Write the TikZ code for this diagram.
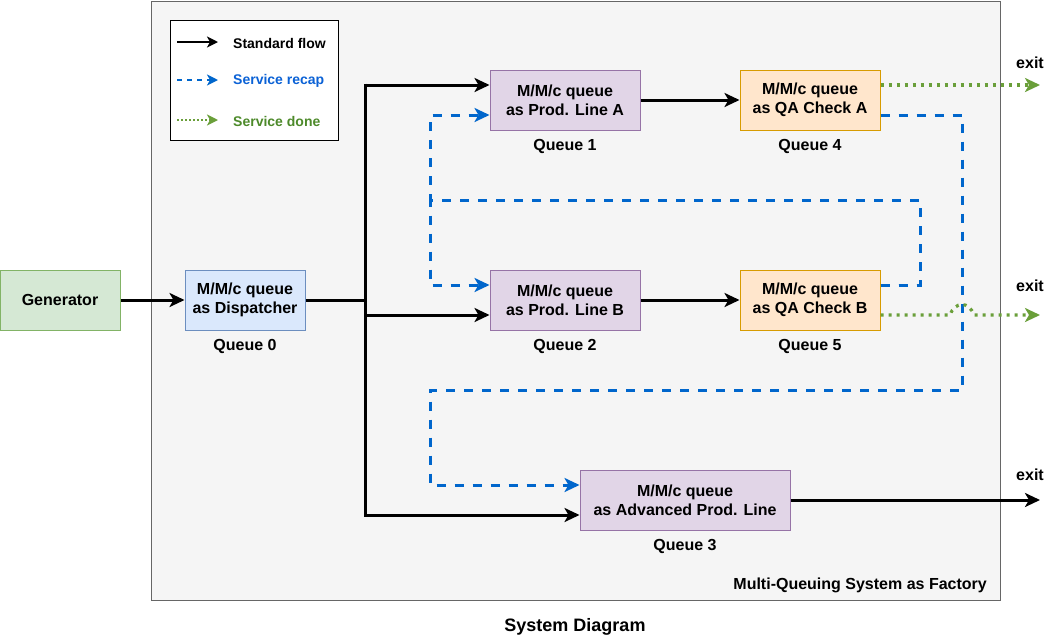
\documentclass[tikz,border=0pt]{standalone}
\usepackage{fontspec}
\setmainfont{Liberation Sans}
\usetikzlibrary{arrows.meta,calc}
\definecolor{sysfill}{HTML}{F5F5F5}
\definecolor{sysline}{HTML}{666666}
\definecolor{genfill}{HTML}{D5E8D4}
\definecolor{genline}{HTML}{82B366}
\definecolor{dispfill}{HTML}{DAE8FC}
\definecolor{displine}{HTML}{6C8EBF}
\definecolor{prodfill}{HTML}{E1D5E7}
\definecolor{prodline}{HTML}{9673A6}
\definecolor{qafill}{HTML}{FFE6CC}
\definecolor{qaline}{HTML}{D79B00}
\definecolor{recap}{HTML}{0066CC}
\definecolor{recaptext}{HTML}{0B62D6}
\definecolor{done}{HTML}{6A9F3A}
\definecolor{donetext}{HTML}{4D8A2A}
\tikzset{
  bigfont/.style={font=\bfseries\fontsize{16}{19}\selectfont},
  box/.style={draw, line width=1pt, minimum height=60, align=center, inner sep=0pt, bigfont},
  lbl/.style={inner sep=0pt, bigfont},
  legtext/.style={inner sep=0pt, anchor=west, font=\bfseries\fontsize{14}{16}\selectfont},
  flowline/.style={line width=3pt, black},
  flow/.style={flowline, -{Stealth[length=15pt,width=14pt,inset=4pt]}},
  recapflow/.style={line width=3pt, recap, dash pattern=on 9pt off 9pt, -{Stealth[length=15pt,width=14pt,inset=4pt]}},
  doneflow/.style={line width=3.2pt, done, dash pattern=on 3pt off 5pt, -{Stealth[length=15pt,width=14pt,inset=4pt]}},
}
\begin{document}
\begin{tikzpicture}[x=1pt,y=-1pt]
\useasboundingbox (0,0) rectangle (1061,641);
% container
\node[draw=sysline, fill=sysfill, line width=1pt, minimum width=849, minimum height=599, inner sep=0pt] (sys) at (575.5,300.5) {};
\node[lbl, anchor=east] (systitle) at (987,585) {Multi-Queuing System as Factory};
\node[inner sep=0pt, font=\bfseries\fontsize{18}{21}\selectfont] (diag) at (575,627) {System Diagram};

% legend
\node[draw=black, fill=white, line width=1pt, minimum width=168, minimum height=120, inner sep=0pt] (legend) at (254,80) {};
\coordinate (la1) at (177,42); \coordinate (lb1) at (218,42);
\coordinate (la2) at (177,80); \coordinate (lb2) at (218,80);
\coordinate (la3) at (177,120); \coordinate (lb3) at (218,120);
\draw[line width=2pt, black, -{Stealth[length=11pt,width=11pt,inset=3pt]}] (la1) -- (lb1);
\draw[line width=2pt, recap, dash pattern=on 5pt off 5pt, -{Stealth[length=11pt,width=11pt,inset=3pt]}] (la2) -- (lb2);
\draw[line width=2pt, done, dash pattern=on 2pt off 2pt, -{Stealth[length=11pt,width=11pt,inset=3pt]}] (la3) -- (lb3);
\node[legtext] (lt1) at (233,43) {Standard flow};
\node[legtext, text=recaptext] (lt2) at (233,81) {Service recap};
\node[legtext, text=donetext] (lt3) at (233,121) {Service done};

% boxes
\node[box, draw=genline, fill=genfill, minimum width=120] (gen) at (60,300) {Generator};
\node[box, draw=displine, fill=dispfill, minimum width=120] (q0) at (245,300) {M/M/c queue\\as Dispatcher};
\node[box, draw=prodline, fill=prodfill, minimum width=150] (q1) at (565,100) {M/M/c queue\\as Prod. Line A};
\node[box, draw=prodline, fill=prodfill, minimum width=150] (q2) at (565,300) {M/M/c queue\\as Prod. Line B};
\node[box, draw=qaline, fill=qafill, minimum width=140] (q4) at (810,100) {M/M/c queue\\as QA Check A};
\node[box, draw=qaline, fill=qafill, minimum width=140] (q5) at (810,300) {M/M/c queue\\as QA Check B};
\node[box, draw=prodline, fill=prodfill, minimum width=210] (q3) at (685,500) {M/M/c queue\\as Advanced Prod. Line};

% box labels
\node[lbl] (lq0) at (245,346) {Queue 0};
\node[lbl] (lq1) at (565,146) {Queue 1};
\node[lbl] (lq2) at (565,346) {Queue 2};
\node[lbl] (lq4) at (810,146) {Queue 4};
\node[lbl] (lq5) at (810,346) {Queue 5};
\node[lbl] (lq3) at (685,546) {Queue 3};
\node[lbl] (ex1) at (1030,63) {exit};
\node[lbl] (ex2) at (1030,286) {exit};
\node[lbl] (ex3) at (1030,475) {exit};

% coordinates
\coordinate (jT) at (365,85);
\coordinate (jM) at (365,300);
\coordinate (j2) at (365,315);
\coordinate (jB) at (365,515);
\coordinate (e1) at (1040,85);
\coordinate (e2) at (1040,315);
\coordinate (e3) at (1040,500);
\coordinate (r1) at (962,390);
\coordinate (l1) at (430,390);
\coordinate (r2) at (920,200);
\coordinate (l2) at (430,200);

% black flows
\draw[flow] (gen) -- (q0);
\draw[flowline] (q0.east) -- (jM);
\draw[flowline] ([yshift=1.5pt]jT) -- ([yshift=-1.5pt]jB);
\draw[flow] (jT) -- (jT -| q1.west);
\draw[flow] (j2) -- (j2 -| q2.west);
\draw[flow] (jB) -- (jB -| q3.west);
\draw[flow] (q1) -- (q4);
\draw[flow] (q2) -- (q5);
\draw[flow] (q3.east) -- (e3);

% recap flows
\draw[recapflow] ([yshift=-15pt]q4.east) -| (r1) -- (l1) |- ([yshift=15pt]q3.west);
\draw[recapflow] ([yshift=15pt]q5.east) -| (r2) -- (l2) |- ([yshift=-15pt]q1.west);
\draw[recapflow] ([yshift=15pt]q5.east) -| (r2) -- (l2) |- ([yshift=15pt]q2.west);

% done flows
\draw[doneflow] ([yshift=15pt]q4.east) -- (e1);
\draw[doneflow] ([yshift=-15pt]q5.east) -- (950,315) .. controls (955,301) and (969,301) .. (974,315) -- (e2);
\end{tikzpicture}
\end{document}
